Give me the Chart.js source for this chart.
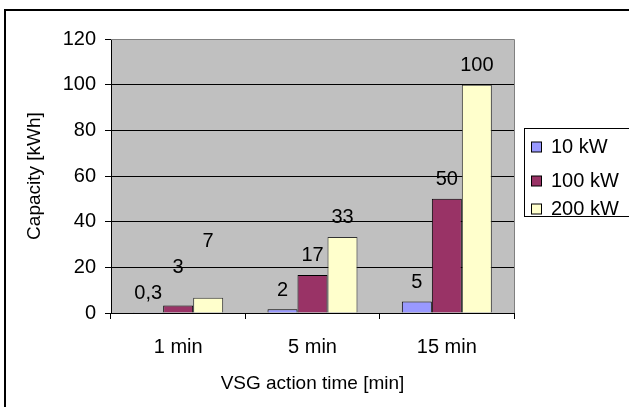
<!DOCTYPE html>
<html>
<head>
<meta charset="utf-8">
<script src="https://cdn.jsdelivr.net/npm/chart.js@4.4.0/dist/chart.umd.min.js"></script>
<style>
  html, body { margin: 0; padding: 0; background: #fff; }
  #wrap { width: 629px; height: 407px; }
</style>
</head>
<body>
<div id="wrap"><canvas id="vsg-chart" width="629" height="407"></canvas></div>
<script>
// Chart data
const categories = ["1 min", "5 min", "15 min"];
const seriesNames = ["10 kW", "100 kW", "200 kW"];
const values10kW = [0.33, 1.67, 5];
const values100kW = [3.33, 16.67, 50];
const values200kW = [6.67, 33.33, 100];
const labels10kW = ["0,3", "2", "5"];
const labels100kW = ["3", "17", "50"];
const labels200kW = ["7", "33", "100"];
const yTicks = [0, 20, 40, 60, 80, 100, 120];

const FONT = "'Liberation Sans', Arial, sans-serif";

// grey plot background + outer frame
const backgroundPlugin = {
  id: "background",
  beforeDraw(chart) {
    const { ctx, chartArea } = chart;
    ctx.save();
    ctx.fillStyle = "#fff";
    ctx.fillRect(0, 0, chart.width, chart.height);
    ctx.fillStyle = "#c0c0c0";
    ctx.fillRect(chartArea.left, chartArea.top, chartArea.right - chartArea.left, chartArea.bottom - chartArea.top);
    // outer frame (only top and left visible)
    ctx.strokeStyle = "#000";
    ctx.lineWidth = 2;
    ctx.beginPath();
    ctx.moveTo(5, chart.height);
    ctx.lineTo(5, 10);
    ctx.lineTo(chart.width, 10);
    ctx.stroke();
    ctx.restore();
  },
  afterDraw(chart) {
    const { ctx, chartArea } = chart;
    // grey plot border top/right
    ctx.save();
    ctx.strokeStyle = "#808080";
    ctx.lineWidth = 1;
    ctx.beginPath();
    ctx.moveTo(chartArea.left, chartArea.top + 0.5);
    ctx.lineTo(chartArea.right + 0.5, chartArea.top + 0.5);
    ctx.lineTo(chartArea.right + 0.5, chartArea.bottom);
    ctx.stroke();
    ctx.restore();
  },
};

// value labels above bars, lifted when they would collide in a group
const valueLabelPlugin = {
  id: "valueLabels",
  afterDatasetsDraw(chart) {
    const { ctx } = chart;
    ctx.save();
    ctx.font = "20px " + FONT;
    ctx.fillStyle = "#000";
    ctx.textAlign = "center";
    ctx.textBaseline = "middle";
    categories.forEach((cat, i) => {
      let prevY = null;
      chart.data.datasets.forEach((ds, d) => {
        const bar = chart.getDatasetMeta(d).data[i];
        let y = bar.y - 19;
        if (prevY !== null && y > prevY - 26) y = prevY - 26;
        ctx.fillText(ds.valueLabels[i], bar.x, y);
        prevY = y;
      });
    });
    ctx.restore();
  },
};

// boxed legend on the right
const legendBoxPlugin = {
  id: "legendBox",
  afterDraw(chart) {
    const { ctx } = chart;
    const x = 524, y = 128, w = 110, h = 88;
    const rows = [147, 181, 209];
    ctx.save();
    ctx.fillStyle = "#fff";
    ctx.fillRect(x, y, w, h);
    ctx.strokeStyle = "#000";
    ctx.lineWidth = 1;
    ctx.strokeRect(x + 0.5, y + 0.5, w, h);
    ctx.font = "20px " + FONT;
    ctx.textBaseline = "middle";
    chart.data.datasets.forEach((ds, d) => {
      const cy = rows[d];
      ctx.fillStyle = ds.backgroundColor;
      ctx.fillRect(531.5, cy - 5, 10, 10);
      ctx.strokeStyle = "#000";
      ctx.strokeRect(531.5, cy - 5, 10, 10);
      ctx.fillStyle = "#000";
      ctx.fillText(ds.label, 551, cy);
    });
    ctx.restore();
  },
};

const ctx = document.getElementById("vsg-chart").getContext("2d");
new Chart(ctx, {
  type: "bar",
  data: {
    labels: categories,
    datasets: [
      { label: seriesNames[0], data: values10kW, valueLabels: labels10kW, backgroundColor: "#9999ff", borderColor: "#000", borderWidth: 1 },
      { label: seriesNames[1], data: values100kW, valueLabels: labels100kW, backgroundColor: "#993366", borderColor: "#000", borderWidth: 1 },
      { label: seriesNames[2], data: values200kW, valueLabels: labels200kW, backgroundColor: "#ffffcc", borderColor: "#333", borderWidth: 1 },
    ],
  },
  options: {
    responsive: false,
    animation: false,
    layout: { padding: { top: 39, right: 115, left: 0, bottom: 0 } },
    datasets: { bar: { categoryPercentage: 0.67, barPercentage: 1 } },
    plugins: {
      legend: { display: false },
      tooltip: { enabled: false },
    },
    scales: {
      x: {
        afterFit: (scale) => { scale.height = 407 - 313; },
        grid: { offset: true, drawOnChartArea: false, tickLength: 6, color: "#000", lineWidth: 1 },
        border: { color: "#000", width: 1 },
        ticks: { color: "#000", font: { family: FONT, size: 20 }, padding: 16 },
        title: {
          display: true,
          text: "VSG action time [min]",
          color: "#000",
          font: { family: FONT, size: 19 },
          padding: { top: 0, bottom: 12 },
        },
      },
      y: {
        min: 0,
        max: 120,
        afterFit: (scale) => { scale.width = 111; },
        afterBuildTicks: (scale) => { scale.ticks = yTicks.map((v) => ({ value: v })); },
        grid: { color: "#000", lineWidth: 1, tickLength: 6 },
        border: { color: "#000", width: 1 },
        ticks: { color: "#000", font: { family: FONT, size: 20 }, padding: 9 },
        title: {
          display: true,
          text: "Capacity [kWh]",
          color: "#000",
          font: { family: FONT, size: 19 },
          padding: { top: 23, bottom: 0 },
        },
      },
    },
  },
  plugins: [backgroundPlugin, valueLabelPlugin, legendBoxPlugin],
});
</script>
</body>
</html>
